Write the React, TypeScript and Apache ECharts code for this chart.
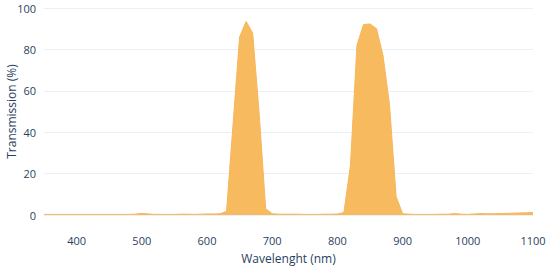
import React, { useEffect, useRef } from "react";
import * as echarts from "echarts";

const wavelengths: number[] = [
  350, 360, 370, 380, 390, 400, 410, 420, 430, 440, 450, 460, 470, 480, 490,
  500, 510, 520, 530, 540, 550, 560, 570, 580, 590, 600, 610, 620, 630, 640,
  650, 660, 670, 680, 690, 700, 710, 720, 730, 740, 750, 760, 770, 780, 790,
  800, 810, 820, 830, 840, 850, 860, 870, 880, 890, 900, 910, 920, 930, 940,
  950, 960, 970, 980, 990, 1000, 1010, 1020, 1030, 1040, 1050, 1060, 1070, 1080, 1090, 1100,
];

const transmission: number[] = [
  0.3, 0.3, 0.3, 0.3, 0.3, 0.3, 0.3, 0.3, 0.3, 0.3, 0.3, 0.3, 0.3, 0.3, 0.4,
  0.8, 0.5, 0.3, 0.3, 0.3, 0.3, 0.4, 0.4, 0.3, 0.4, 0.5, 0.5, 0.6, 1.8, 44,
  86, 93.5, 88, 49, 3, 0.6, 0.4, 0.4, 0.4, 0.4, 0.3, 0.3, 0.3, 0.4, 0.4,
  0.5, 1.2, 24, 82, 92, 92.3, 90, 77, 53, 9, 0.6, 0.4, 0.3, 0.3, 0.3,
  0.3, 0.4, 0.4, 0.7, 0.4, 0.3, 0.5, 0.7, 0.6, 0.6, 0.7, 0.8, 0.9, 1.0, 1.1, 1.2,
];

const xTicks: number[] = [400, 500, 600, 700, 800, 900, 1000, 1100];

export default function App() {
  const ref = useRef<HTMLDivElement>(null);
  useEffect(() => {
    if (!ref.current) return;
    const chart = echarts.init(ref.current, undefined, { renderer: "svg" });
    const font = '"Open Sans", sans-serif';
    chart.setOption({
      animation: false,
      backgroundColor: "#ffffff",
      grid: {
        left: 44,
        right: 17,
        top: 8,
        bottom: 54,
        containLabel: false,
        outerBoundsMode: "none",
      },
      xAxis: {
        type: "value",
        min: 350,
        max: 1100,
        name: "Wavelenght (nm)",
        nameLocation: "middle",
        nameGap: 37,
        nameMoveOverlap: false,
        nameTextStyle: { fontFamily: font, fontSize: 12, color: "#2a3f5f" },
        axisLine: { show: false },
        axisTick: { show: false },
        splitLine: { show: false },
        axisLabel: {
          customValues: xTicks,
          formatter: (v: number) => String(v),
          fontFamily: font,
          fontSize: 11,
          color: "#2a3f5f",
          margin: 20,
        },
      },
      yAxis: {
        type: "value",
        min: 0,
        max: 100,
        interval: 20,
        name: "Transmission (%)",
        nameLocation: "middle",
        nameGap: 27,
        nameMoveOverlap: false,
        nameTextStyle: { fontFamily: font, fontSize: 12, color: "#2a3f5f" },
        axisLine: { show: false },
        axisTick: { show: false },
        splitLine: { show: true, lineStyle: { color: "#EBF0F8", width: 1 } },
        axisLabel: { fontFamily: font, fontSize: 11, color: "#2a3f5f", margin: 8 },
      },
      series: [
        {
          type: "line",
          data: wavelengths.map((w, i) => [w, transmission[i]]),
          showSymbol: false,
          symbol: "none",
          lineStyle: { color: "#F7B65A", width: 1 },
          areaStyle: { color: "#F8BA5E", opacity: 1 },
          itemStyle: { color: "#F7B65A" },
        },
      ],
    });
    return () => chart.dispose();
  }, []);
  return (
    <div
      ref={ref}
      style={{ position: "fixed", left: 0, top: 0, width: 550, height: 269 }}
    />
  );
}
